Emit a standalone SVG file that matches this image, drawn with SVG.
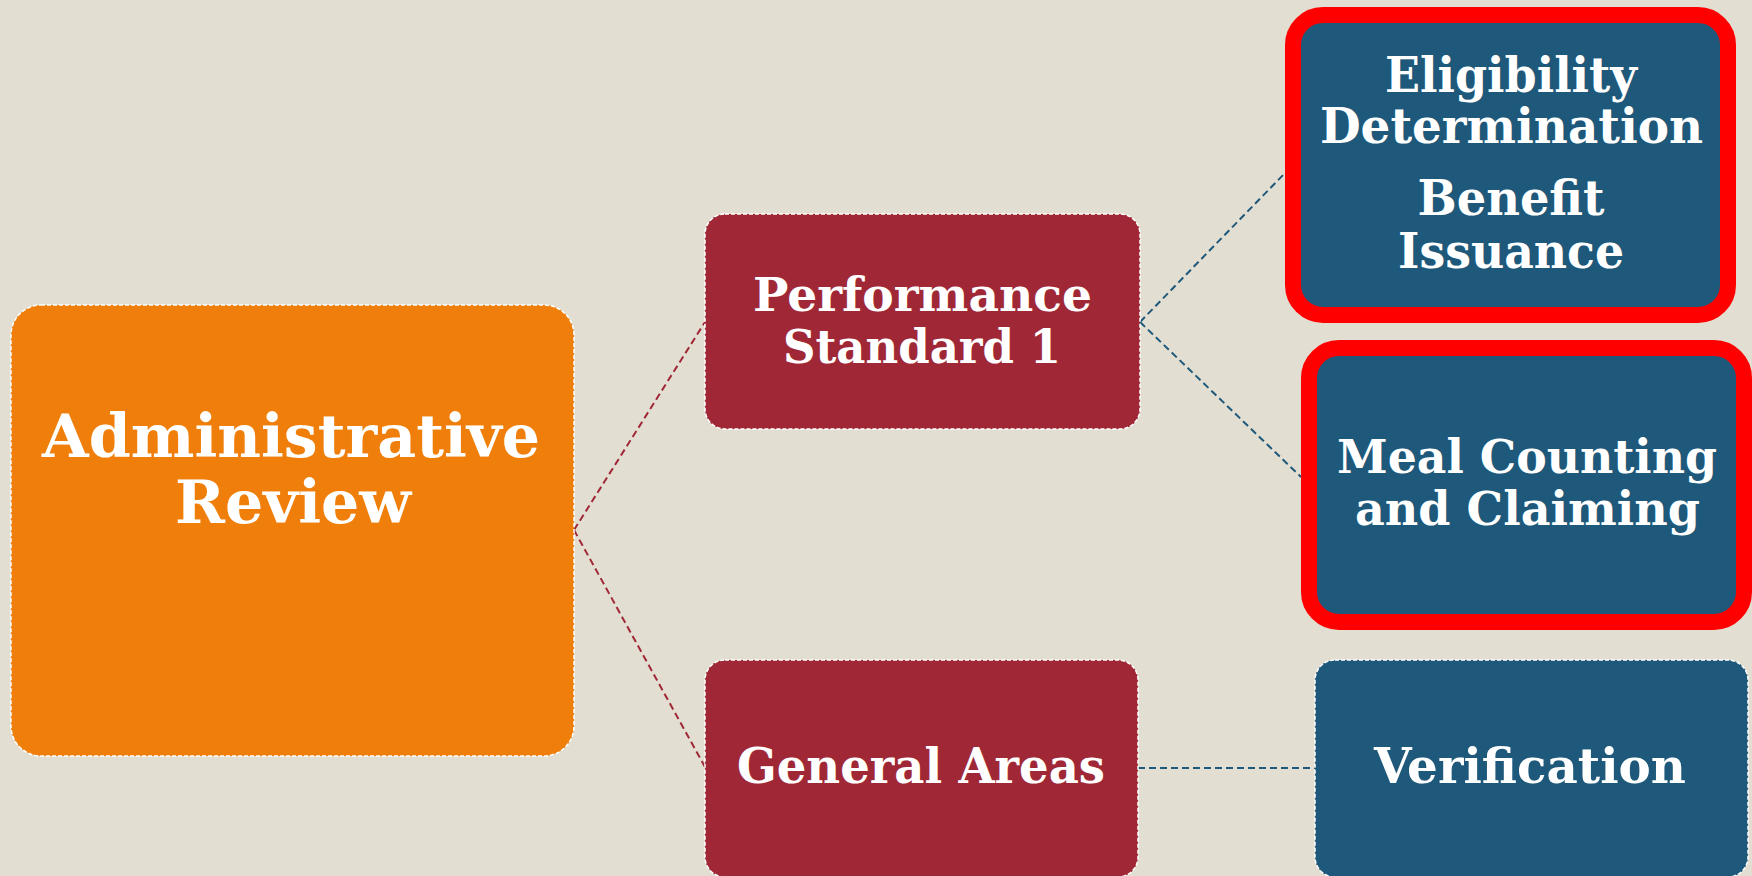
<svg xmlns="http://www.w3.org/2000/svg" width="1752" height="876" viewBox="0 0 1752 876">
  <style>
    .node-text { font-family: "DejaVu Serif", "Liberation Serif", serif; font-weight: bold; fill: #FFFFFF; text-anchor: middle; }
    .dash-border { stroke: #FFFFFF; stroke-width: 1.5; stroke-dasharray: 4 2; }
    .root { fill: #EF7F0A; }
    .level1 { fill: #A02836; }
    .level2 { fill: #1E587A; }
    .flagged { fill: #1E587A; stroke: #FF0000; stroke-width: 16; }
    .conn { fill: none; stroke-width: 2; stroke-dasharray: 7 4; }
    .conn-red { stroke: #A02836; }
    .conn-blue { stroke: #1E587A; }
  </style>

  <rect x="0" y="0" width="1752" height="876" fill="#E3DED2"/>

  <g id="connectors">
    <path class="conn conn-red" d="M574,530 L705,322"/>
    <path class="conn conn-red" d="M574,530 L705,767"/>
    <path class="conn conn-blue" d="M1140,322 L1285,173"/>
    <path class="conn conn-blue" d="M1140,322 L1301,477"/>
    <path class="conn conn-blue" d="M1138,768 L1315,768"/>
  </g>

  <g id="administrative-review">
    <rect class="root dash-border" x="11" y="305" width="563" height="451" rx="30"/>
    <text class="node-text" font-size="60" x="291" y="457" textLength="498" lengthAdjust="spacingAndGlyphs">Administrative</text>
    <text class="node-text" font-size="60" x="293" y="523" textLength="236" lengthAdjust="spacingAndGlyphs">Review</text>
  </g>

  <g id="performance-standard-1">
    <rect class="level1 dash-border" x="705" y="214" width="435" height="215" rx="20"/>
    <text class="node-text" font-size="47" x="922.5" y="311" textLength="339" lengthAdjust="spacingAndGlyphs">Performance</text>
    <text class="node-text" font-size="47" x="922" y="363" textLength="278" lengthAdjust="spacingAndGlyphs">Standard 1</text>
  </g>

  <g id="general-areas">
    <rect class="level1 dash-border" x="705" y="660" width="433" height="217" rx="20"/>
    <text class="node-text" font-size="48" x="921" y="783" textLength="368" lengthAdjust="spacingAndGlyphs">General Areas</text>
  </g>

  <g id="eligibility-benefit">
    <rect class="flagged" x="1293" y="15" width="435" height="300" rx="30"/>
    <text class="node-text" font-size="48" x="1511" y="92" textLength="252" lengthAdjust="spacingAndGlyphs">Eligibility</text>
    <text class="node-text" font-size="48" x="1511.5" y="143" textLength="383" lengthAdjust="spacingAndGlyphs">Determination</text>
    <text class="node-text" font-size="48" x="1511" y="215" textLength="187" lengthAdjust="spacingAndGlyphs">Benefit</text>
    <text class="node-text" font-size="48" x="1511" y="268" textLength="226" lengthAdjust="spacingAndGlyphs">Issuance</text>
  </g>

  <g id="meal-counting">
    <rect class="flagged" x="1309" y="348" width="435" height="274" rx="30"/>
    <text class="node-text" font-size="46" x="1527" y="473" textLength="380" lengthAdjust="spacingAndGlyphs">Meal Counting</text>
    <text class="node-text" font-size="46" x="1527.5" y="525" textLength="345" lengthAdjust="spacingAndGlyphs">and Claiming</text>
  </g>

  <g id="verification">
    <rect class="level2 dash-border" x="1315" y="660" width="433" height="217" rx="20"/>
    <text class="node-text" font-size="48" x="1530" y="783" textLength="312" lengthAdjust="spacingAndGlyphs">Verification</text>
  </g>
</svg>
